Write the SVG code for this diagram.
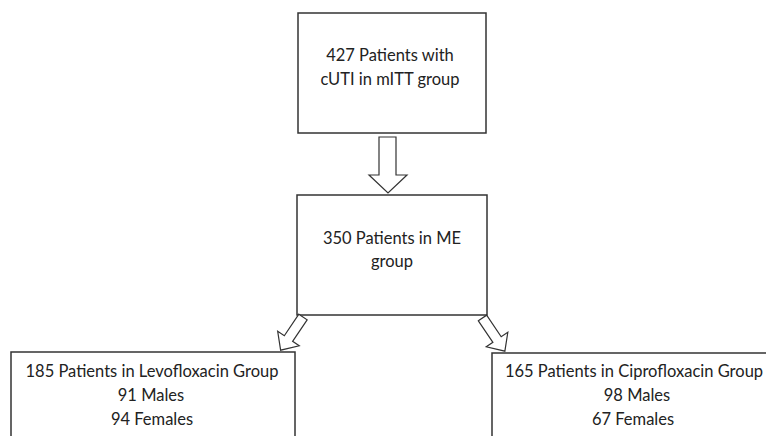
<svg xmlns="http://www.w3.org/2000/svg" width="766" height="436" viewBox="0 0 766 436">
<defs>
<style>
.box{fill:#fff;stroke:#333;stroke-width:1.5}
.arr{fill:#fff;stroke:#333;stroke-width:1.2;stroke-linejoin:miter}
text{font-family:Lato,"Open Sans","Liberation Sans",sans-serif;font-size:16.5px;fill:#222;text-anchor:middle}
</style>
<polygon id="diag" points="-5,0 5,0 5,26 13,26 0,40 -13,26 -5,26"/>
</defs>
<rect width="766" height="436" fill="#fff"/>
<g id="n1">
<rect class="box" x="298" y="13" width="188" height="120"/>
<text x="390" y="61">427 Patients with</text>
<text x="390" y="85">cUTI in mITT group</text>
</g>
<g id="n2">
<rect class="box" x="297" y="195" width="190" height="120"/>
<text x="392" y="244">350 Patients in ME</text>
<text x="392" y="267">group</text>
</g>
<g id="n3">
<rect class="box" x="11" y="352" width="284" height="100"/>
<text x="152" y="377">185 Patients in Levofloxacin Group</text>
<text x="151" y="401">91 Males</text>
<text x="152" y="425">94 Females</text>
</g>
<g id="n4">
<rect class="box" x="492" y="353" width="284" height="100"/>
<text x="634" y="377">165 Patients in Ciprofloxacin Group</text>
<text x="637" y="401">98 Males</text>
<text x="633" y="425">67 Females</text>
</g>
<g id="connectors">
<polygon class="arr" points="379,137 396,137 396,175 407,175 388,193 369,175 379,175"/>
<use href="#diag" class="arr" transform="translate(303,317) rotate(34)"/>
<use href="#diag" class="arr" transform="translate(482.5,318) rotate(-34)"/>
</g>
</svg>
